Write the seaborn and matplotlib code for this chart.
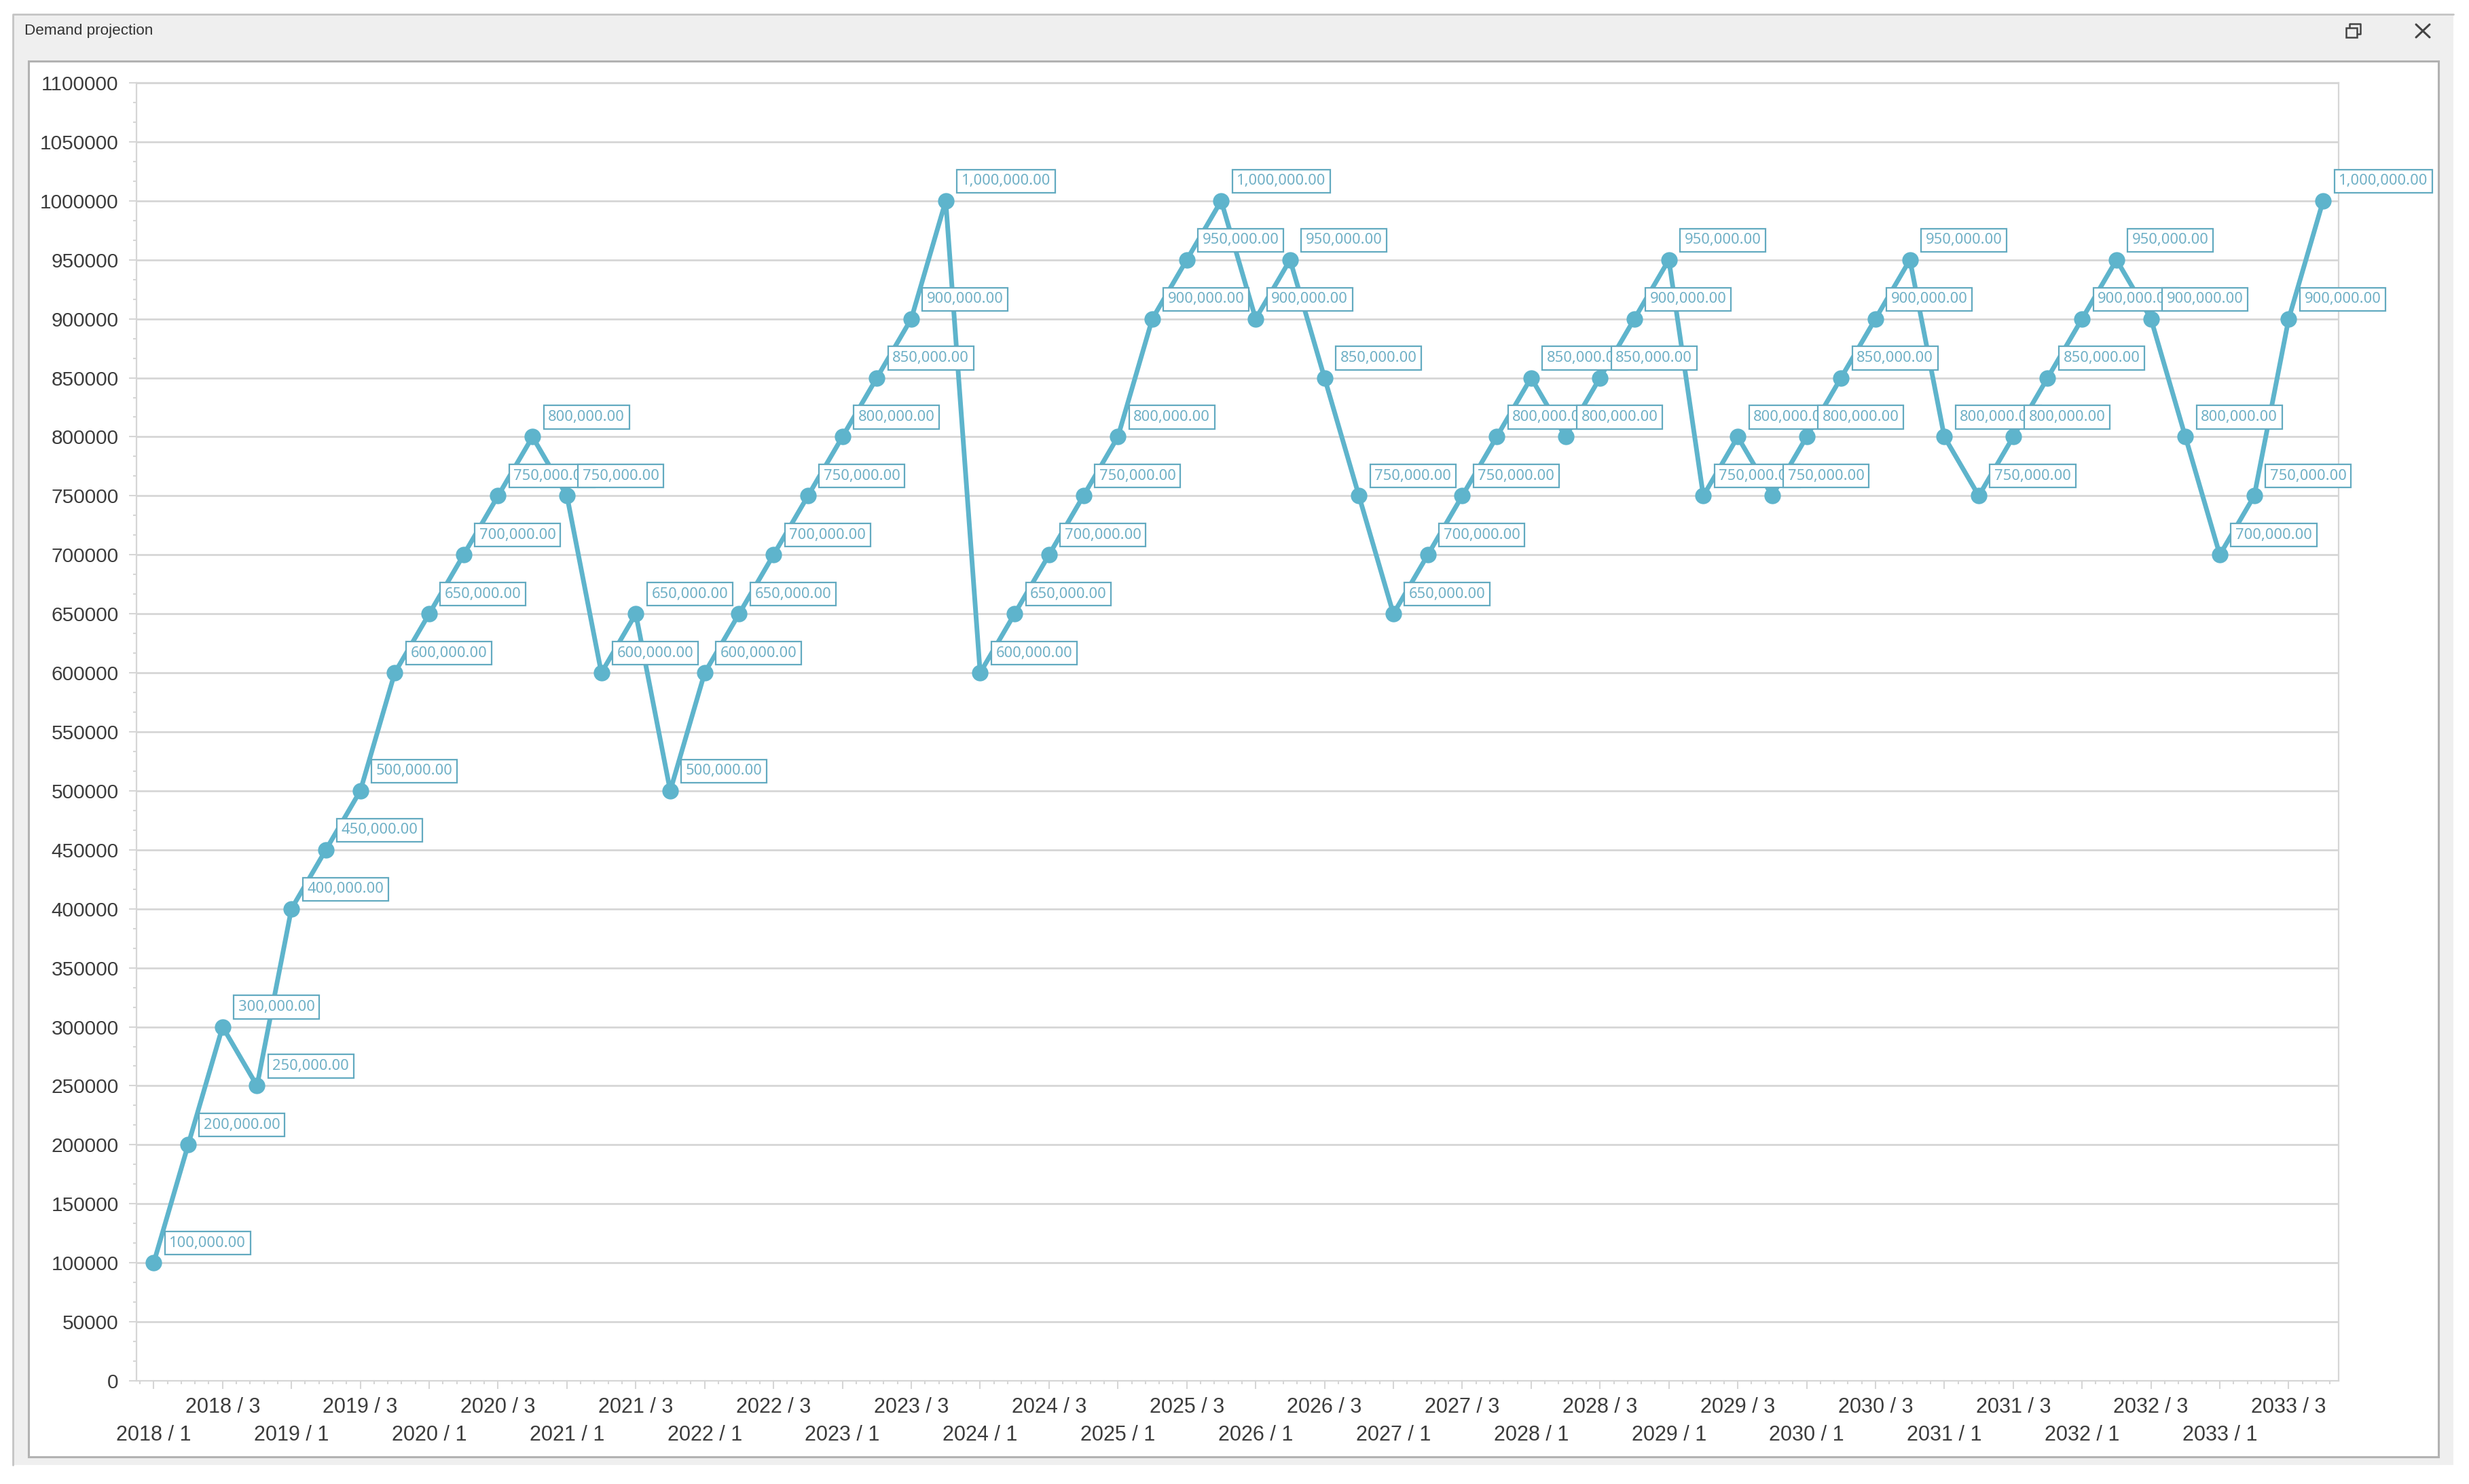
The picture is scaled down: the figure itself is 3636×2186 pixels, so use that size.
import matplotlib
matplotlib.use("Agg")
import matplotlib.pyplot as plt
from matplotlib.patches import Rectangle
from matplotlib.lines import Line2D
import pandas as pd
import seaborn as sns

W, H = 3637, 2186

# quarters 2018/1 .. 2033/4
years = list(range(2018, 2034))
quarters = [1, 2, 3, 4]
demand = [100000, 200000, 300000, 250000,
          400000, 450000, 500000, 600000,
          650000, 700000, 750000, 800000,
          750000, 600000, 650000, 500000,
          600000, 650000, 700000, 750000,
          800000, 850000, 900000, 1000000,
          600000, 650000, 700000, 750000,
          800000, 900000, 950000, 1000000,
          900000, 950000, 850000, 750000,
          650000, 700000, 750000, 800000,
          850000, 800000, 850000, 900000,
          950000, 750000, 800000, 750000,
          800000, 850000, 900000, 950000,
          800000, 750000, 800000, 850000,
          900000, 950000, 900000, 800000,
          700000, 750000, 900000, 1000000]
periods = [f"{y} / {q}" for y in years for q in quarters]
y_ticks = list(range(0, 1150000, 50000))

LINE = "#5eb4cc"
BOX = "#62aac0"
LABEL = "#6fb0c6"
GRID = "#d6d6d6"
TEXT = "#3c3c3c"

sns.set_theme(style="white")
plt.rcParams["font.family"] = ["Liberation Sans", "DejaVu Sans"]

df = pd.DataFrame({"pos": range(len(periods)), "period": periods, "demand": demand})

fig = plt.figure(figsize=(W / 100, H / 100), dpi=100, facecolor="white")


def px_rect(x0, y0, x1, y1, zorder=-5, **kw):
    fig.add_artist(Rectangle((x0 / W, 1 - y1 / H), (x1 - x0) / W, (y1 - y0) / H,
                             transform=fig.transFigure, zorder=zorder, **kw))


def px_line(xs, ys, zorder=-4, **kw):
    fig.add_artist(Line2D([x / W for x in xs], [1 - y / H for y in ys],
                          transform=fig.transFigure, zorder=zorder, **kw))


# window chrome
px_rect(19, 21, 3613, 2158, facecolor="#efefef", edgecolor="none")
px_line([19, 19, 3613], [2158, 21, 21], color="#c4c4c4", lw=2)
px_rect(42, 90, 3591, 2146, zorder=-3, facecolor="white", edgecolor="#b2b2b2", lw=2.2)
fig.text(36 / W, 1 - 45 / H, "Demand projection", fontsize=16.2, color="#333333",
         va="center", ha="left")
px_rect(3455, 41, 3471, 55, zorder=-2, facecolor="#efefef", edgecolor="#444444", lw=1.8)
px_line([3460, 3460, 3476, 3476, 3471], [41, 35, 35, 50, 50], color="#444444", lw=1.8)
px_line([3558, 3578], [36, 55], color="#444444", lw=2.2)
px_line([3578, 3558], [36, 55], color="#444444", lw=2.2)

ax = fig.add_axes([201 / W, 1 - 2034 / H, (3444 - 201) / W, (2034 - 122) / H])
ax.patch.set_alpha(0)

sns.lineplot(data=df, x="pos", y="demand", ax=ax, color=LINE, lw=5, marker="o",
             markersize=17.5, markeredgewidth=0, errorbar=None, sort=False, zorder=3)

ax.set_xlim(-0.5, len(periods) - 0.55)
ax.set_ylim(0, 1100000)
ax.set_xlabel("")
ax.set_ylabel("")

# y axis
ax.set_yticks(y_ticks)
ax.set_yticklabels([str(v) for v in y_ticks])
ax.set_yticks([v + s for v in y_ticks[:-1] for s in (16667, 33333)], minor=True)
ax.yaxis.grid(True, which="major", color=GRID, lw=2)
ax.xaxis.grid(False)
ax.set_axisbelow(True)

# x axis, labels staggered on two rows
major_pos = list(range(0, len(periods), 2))
ax.set_xticks(major_pos)
ax.set_xticklabels([periods[p] for p in major_pos])
ax.set_xticks([i * 0.4 for i in range(-1, 159) if i % 5 != 0], minor=True)

ax.tick_params(axis="y", which="major", length=8, width=1.5, color=GRID, pad=11,
               labelsize=21.5, labelcolor=TEXT, left=True)
ax.tick_params(axis="y", which="minor", length=3.5, width=1.5, color=GRID, left=True)
ax.tick_params(axis="x", which="major", length=8.6, width=1.5, color=GRID,
               labelsize=22, labelcolor=TEXT, bottom=True)
ax.tick_params(axis="x", which="minor", length=3.5, width=1.5, color=GRID, bottom=True)
for n, tick in enumerate(ax.xaxis.get_major_ticks()):
    tick.set_pad(38 if n % 2 == 0 else 9)

for side in ax.spines:
    ax.spines[side].set_visible(True)
    ax.spines[side].set_color(GRID)
    ax.spines[side].set_linewidth(1.6)

# value boxes, later ones sit on top of earlier ones
for i, v in enumerate(demand):
    ax.annotate(f"{v:,.2f}", xy=(i, v), xytext=(23, 29), textcoords="offset pixels",
                ha="left", va="center", fontsize=15.8, color=LABEL,
                family=["Noto Sans", "DejaVu Sans"], zorder=10 + i,
                bbox=dict(boxstyle="square,pad=0.3", facecolor="white",
                          edgecolor=BOX, lw=1.6))

fig.savefig("out.png", dpi=100, facecolor="white")
